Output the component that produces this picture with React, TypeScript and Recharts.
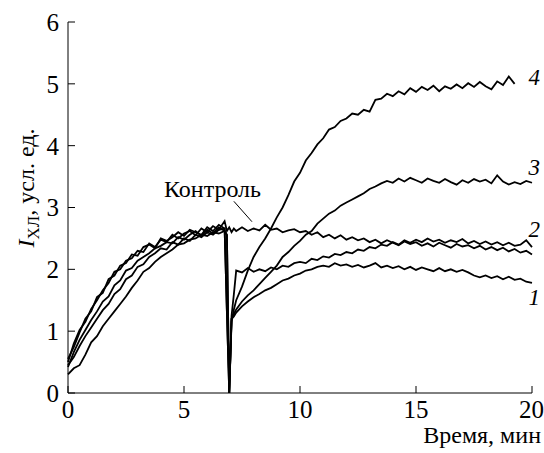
import { LineChart, Line, XAxis, YAxis, ReferenceLine, ReferenceDot } from "recharts";

const minutes = [
  0, 0.25, 0.5, 0.75, 1, 1.25, 1.5, 1.75, 2, 2.25, 2.5, 2.75, 3, 3.25, 3.5, 3.75, 4, 4.25, 4.5, 4.75,
  5, 5.25, 5.5, 5.75, 6, 6.25, 6.5, 6.75,
  6.85, 6.95, 7.05, 7.15, 7.25,
  7.5, 7.75, 8, 8.25, 8.5, 8.75, 9, 9.25, 9.5, 9.75, 10, 10.25, 10.5, 10.75, 11, 11.25, 11.5, 11.75,
  12, 12.25, 12.5, 12.75, 13, 13.25, 13.5, 13.75, 14, 14.25, 14.5, 14.75, 15, 15.25, 15.5, 15.75,
  16, 16.25, 16.5, 16.75, 17, 17.25, 17.5, 17.75, 18, 18.25, 18.5, 18.75, 19, 19.25, 19.5, 19.75, 20,
];

const control = [
  0.5, 0.8, 1.02, 1.15, 1.36, 1.5, 1.66, 1.78, 1.96, 2.0, 2.14, 2.18, 2.3, 2.28, 2.42, 2.36, 2.48, 2.44, 2.56, 2.5,
  2.58, 2.62, 2.55, 2.66, 2.6, 2.7, 2.64, 2.78,
  2.62, 2.68, 2.6, 2.66, 2.62,
  2.68, 2.62, 2.66, 2.63, 2.72, 2.64, 2.66, 2.6, 2.63, 2.65, 2.6, 2.62, 2.56, 2.6, 2.52, 2.56, 2.5, 2.55,
  2.48, 2.52, 2.47, 2.5, 2.44, 2.48, 2.42, 2.47, 2.43, 2.39, 2.45, 2.41, 2.44, 2.38, 2.42, 2.37,
  2.43, 2.39, 2.35, 2.41, 2.37, 2.39, 2.34, 2.38, 2.32, 2.36, 2.31, 2.35, 2.29, 2.33, 2.27, 2.3, 2.24,
];

const curve1 = [
  0.3, 0.4, 0.45, 0.62, 0.82, 0.92, 1.08, 1.2, 1.32, 1.44, 1.56, 1.7, 1.82, 1.96, 2.02, 2.12, 2.2, 2.26, 2.32, 2.4,
  2.42, 2.48, 2.5, 2.56, 2.54, 2.6, 2.58, 2.62,
  2.56, 0, 1.2, 1.24, 1.3,
  1.4, 1.48, 1.55, 1.6, 1.66, 1.7, 1.76, 1.82, 1.85, 1.9, 1.93, 1.98, 2.0, 2.04, 2.06, 2.04, 2.1, 2.06,
  2.08, 2.04, 2.07, 2.03, 2.06, 2.1, 2.03, 2.06, 2.02, 2.05, 2.0, 2.04, 1.99, 2.03, 2.0, 1.97,
  2.02, 1.97, 2.0, 1.96, 1.99, 1.95, 1.9, 1.87, 1.9, 1.86, 1.89, 1.84, 1.88, 1.83, 1.85, 1.8, 1.78,
];

const curve2 = [
  0.45, 0.58, 0.76, 0.92, 1.06, 1.2, 1.34, 1.44, 1.6, 1.68, 1.84, 1.9, 2.04, 2.08, 2.2, 2.26, 2.34, 2.32, 2.44, 2.4,
  2.5, 2.46, 2.56, 2.52, 2.6, 2.56, 2.64, 2.66,
  1.3, 0, 1.25, 1.6, 1.98,
  1.95, 2.02, 1.96, 2.0, 1.97, 2.03, 2.0, 2.06, 2.04, 2.1, 2.12, 2.1, 2.17, 2.15, 2.21, 2.19, 2.25, 2.23,
  2.28, 2.26, 2.32, 2.3, 2.36, 2.34, 2.4, 2.38, 2.44, 2.4, 2.47, 2.43, 2.48, 2.44, 2.5, 2.45,
  2.48, 2.43, 2.47, 2.44, 2.49, 2.42, 2.46, 2.41, 2.45, 2.4, 2.44, 2.39, 2.43, 2.38, 2.4, 2.47, 2.36,
];

const curve3 = [
  0.42, 0.66, 0.86, 1.02, 1.18, 1.32, 1.48, 1.56, 1.74, 1.82, 1.98, 2.02, 2.14, 2.2, 2.26, 2.34, 2.38, 2.44, 2.42, 2.52,
  2.48, 2.56, 2.62, 2.54, 2.64, 2.58, 2.68, 2.62,
  2.55, 0, 1.2, 1.28, 1.35,
  1.48, 1.58, 1.66, 1.76, 1.86, 1.96, 2.06, 2.2, 2.28, 2.38, 2.46, 2.56, 2.62, 2.74, 2.82, 2.9, 2.95, 3.03,
  3.08, 3.13, 3.18, 3.23, 3.3, 3.34, 3.39, 3.43, 3.4, 3.47, 3.42, 3.48, 3.44, 3.4, 3.47, 3.43,
  3.4, 3.46, 3.41, 3.37, 3.44, 3.4, 3.46, 3.42, 3.45, 3.39, 3.52, 3.42, 3.37, 3.41, 3.38, 3.43, 3.4,
];

const curve4 = [
  0.55, 0.74, 0.98, 1.2, 1.32, 1.55, 1.62, 1.84, 1.9, 2.06, 2.1, 2.24, 2.22, 2.36, 2.4, 2.34, 2.5, 2.46, 2.52, 2.6,
  2.54, 2.64, 2.6, 2.56, 2.68, 2.62, 2.72, 2.66,
  1.3, 0, 1.15, 1.35, 1.5,
  1.72, 1.98, 2.2, 2.36, 2.5, 2.66, 2.84, 3.0, 3.2, 3.42, 3.56, 3.76, 3.88, 4.02, 4.12, 4.26, 4.3, 4.4,
  4.44, 4.52, 4.5, 4.58, 4.55, 4.74, 4.76, 4.84, 4.8, 4.88, 4.83, 4.93, 4.87, 4.95, 4.9, 4.97,
  4.88, 4.96, 4.92, 4.99, 4.93, 5.01, 4.95, 5.03, 4.96, 4.91, 5.04, 4.98, 5.12, 5.0, null, null, null,
];

const xTicks = [0, 5, 10, 15, 20];
const yTicks = [0, 1, 2, 3, 4, 5, 6];

const seriesKeys = ["control", "c1", "c2", "c3", "c4"];

const data = minutes.map((t, i) => ({
  t,
  control: control[i],
  c1: curve1[i],
  c2: curve2[i],
  c3: curve3[i],
  c4: curve4[i],
}));

const FONT = "Liberation Serif";

const textLabel = (text: string, italic: boolean, size: number) => (props: any) => {
  const vb = props.viewBox || {};
  return (
    <text
      x={vb.x}
      y={vb.y}
      textAnchor="middle"
      dominantBaseline="central"
      fontFamily={FONT}
      fontSize={size}
      fontStyle={italic ? "italic" : "normal"}
      fill="#000"
    >
      {text}
    </text>
  );
};

export default function App() {
  return (
    <div style={{ position: "absolute", left: 0, top: 0, background: "#fff" }}>
      <LineChart width={544} height={453} data={data} margin={{ top: 22, right: 12, bottom: 29, left: 8 }}>
        <XAxis
          dataKey="t"
          type="number"
          domain={[0, 20]}
          ticks={xTicks}
          tickSize={-7}
          tickMargin={14}
          axisLine={{ stroke: "#000" }}
          tickLine={{ stroke: "#000" }}
          tick={{ fill: "#000", fontSize: 25, fontFamily: FONT }}
          height={31}
          label={{
            content: () => (
              <text x={541} y={443} textAnchor="end" fontFamily={FONT} fontSize={24} fill="#000">
                Время, мин
              </text>
            ),
          }}
        />
        <YAxis
          type="number"
          domain={[0, 6]}
          ticks={yTicks}
          tickSize={-7}
          tickMargin={16}
          width={60}
          axisLine={{ stroke: "#000" }}
          tickLine={{ stroke: "#000" }}
          tick={{ fill: "#000", fontSize: 25, fontFamily: FONT }}
          label={{
            content: () => (
              <text
                x={34}
                y={188}
                transform="rotate(-90, 34, 188)"
                textAnchor="middle"
                fontFamily={FONT}
                fontSize={24}
                fill="#000"
              >
                <tspan fontStyle="italic">I</tspan>
                <tspan fontSize={17} dy={5}>ХЛ</tspan>
                <tspan dy={-5}>, усл. ед.</tspan>
              </text>
            ),
          }}
        />
        {seriesKeys.map((k) => (
          <Line
            key={k}
            dataKey={k}
            type="linear"
            stroke="#000"
            strokeWidth={1.8}
            dot={false}
            isAnimationActive={false}
          />
        ))}
        <ReferenceLine
          segment={[{ x: 7.15, y: 3.1 }, { x: 7.93, y: 2.77 }]}
          stroke="#000"
          strokeWidth={1}
          ifOverflow="visible"
        />
        <ReferenceDot x={6.23} y={3.3} r={0} ifOverflow="visible" label={{ content: textLabel("Контроль", false, 24) }} />
        <ReferenceDot x={20.1} y={5.1} r={0} ifOverflow="visible" label={{ content: textLabel("4", true, 23) }} />
        <ReferenceDot x={20.1} y={3.65} r={0} ifOverflow="visible" label={{ content: textLabel("3", true, 23) }} />
        <ReferenceDot x={20.1} y={2.65} r={0} ifOverflow="visible" label={{ content: textLabel("2", true, 23) }} />
        <ReferenceDot x={20.1} y={1.54} r={0} ifOverflow="visible" label={{ content: textLabel("1", true, 23) }} />
      </LineChart>
    </div>
  );
}
